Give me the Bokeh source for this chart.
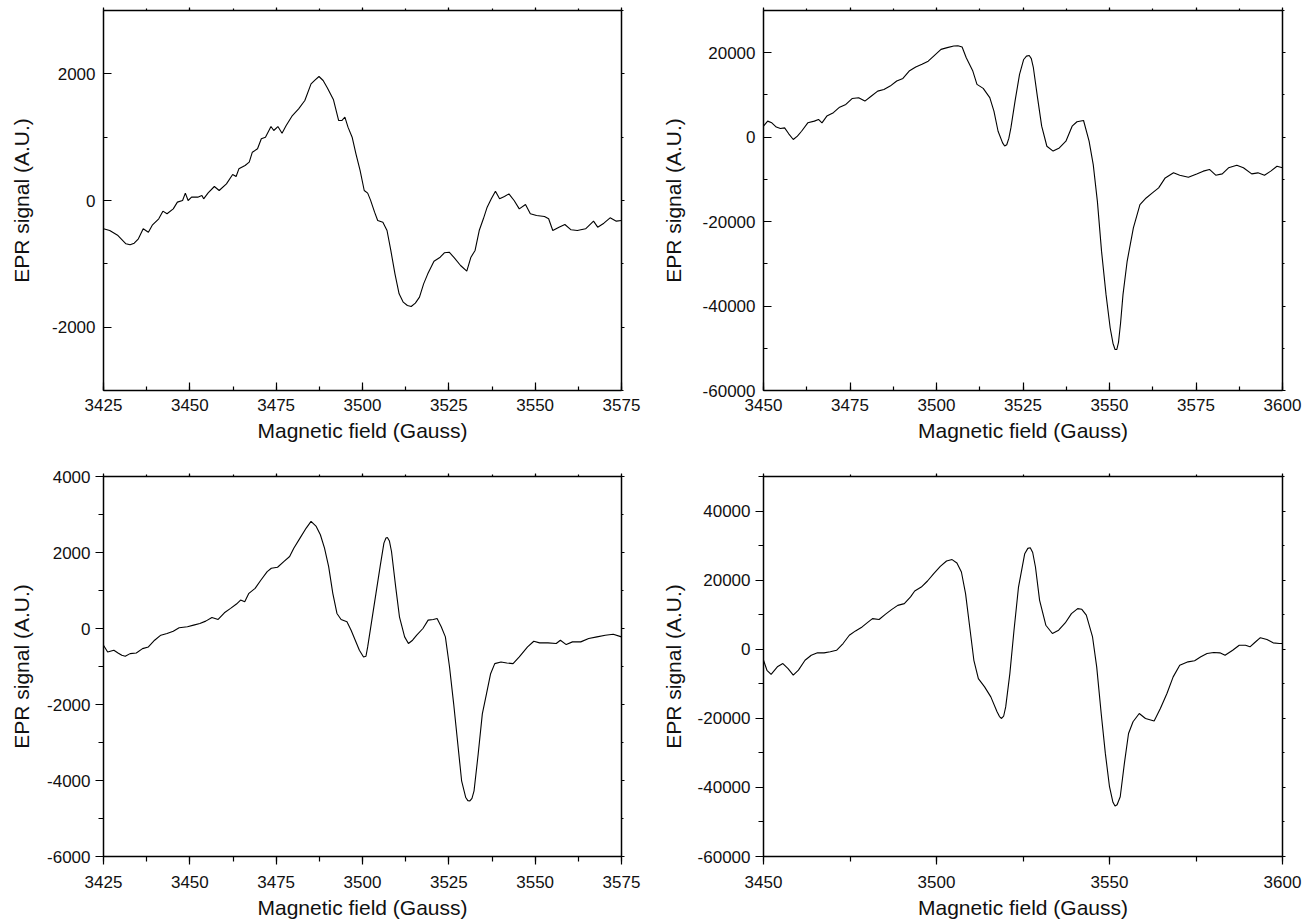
from bokeh.plotting import figure
from bokeh.layouts import column, row
from bokeh.models import Range1d, LinearAxis, SingleIntervalTicker, NumeralTickFormatter, CustomJSTickFormatter
from bokeh.embed import file_html
from bokeh.resources import INLINE

# ---------------- data ----------------
x_label = "Magnetic field (Gauss)"
y_label = "EPR signal (A.U.)"

p1_field = [3425, 3426.8, 3429.2, 3431.5, 3432.7, 3433.9, 3435.1, 3436.5, 3438.0, 3439.2, 3441.0, 3442.2, 3443.4,
            3445.2, 3446.4, 3447.9, 3448.7, 3449.5, 3450.5, 3452.3, 3453.5, 3454.0, 3455.3, 3457.1, 3458.5, 3460.6,
            3462.4, 3463.4, 3464.2, 3466.0, 3467.2, 3468.1, 3469.6, 3470.7, 3471.9, 3473.5, 3474.3, 3475.5, 3476.7,
            3477.9, 3479.7, 3481.5, 3483.3, 3485.1, 3486.3, 3487.4, 3488.6, 3489.8, 3491.6, 3493.1, 3494.0, 3494.9,
            3495.8, 3497.0, 3498.1, 3499.3, 3500.5, 3501.5, 3502.3, 3503.5, 3504.4, 3505.9, 3507.1, 3508.2, 3509.4,
            3510.6, 3511.8, 3513.0, 3514.1, 3515.3, 3516.5, 3517.7, 3518.9, 3520.7, 3522.5, 3523.7, 3525.1, 3526.6,
            3528.4, 3530.2, 3531.4, 3532.6, 3533.8, 3535.0, 3536.1, 3537.3, 3538.5, 3539.7, 3541.1, 3542.4, 3543.9,
            3545.4, 3547.2, 3548.6, 3550.4, 3552.7, 3553.9, 3555.1, 3556.9, 3558.6, 3560.4, 3562.2, 3564.6, 3566.9,
            3568.1, 3569.9, 3571.7, 3573.5, 3575.0]
p1_signal = [-447, -474, -553, -684, -700, -674, -605, -447, -500, -384, -289, -168, -210, -132, -26, 0, 116, 0, 53,
             53, 79, 26, 121, 221, 158, 263, 410, 379, 500, 553, 605, 763, 816, 974, 1000, 1168, 1105, 1168, 1063,
             1184, 1342, 1447, 1579, 1842, 1905, 1958, 1895, 1779, 1589, 1263, 1263, 1316, 1158, 1000, 737, 474, 158,
             116, 10, -184, -316, -342, -474, -789, -1158, -1474, -1605, -1658, -1674, -1621, -1526, -1316, -1158,
             -958, -895, -826, -816, -905, -1026, -1116, -895, -789, -474, -289, -105, 26, 147, 26, 63, 105, 0, -132,
             -63, -210, -237, -253, -289, -474, -421, -379, -463, -474, -447, -326, -421, -358, -274, -326, -316]

p2_field = [3450, 3451.2, 3452.4, 3453.7, 3454.9, 3456.1, 3457.3, 3458.6, 3459.8, 3461.0, 3462.8, 3464.7, 3465.9,
            3466.9, 3468.3, 3470.2, 3472.0, 3473.8, 3475.6, 3477.5, 3479.3, 3481.1, 3483.0, 3484.8, 3486.6, 3488.5,
            3490.3, 3492.1, 3494.0, 3495.8, 3497.6, 3499.5, 3501.3, 3503.1, 3505.0, 3506.2, 3507.4, 3508.6, 3510.5,
            3511.7, 3513.5, 3515.4, 3516.6, 3517.8, 3519.1, 3519.7, 3520.3, 3520.9, 3521.5, 3522.7, 3524.0, 3525.2,
            3526.0, 3526.8, 3527.4, 3528.0, 3529.2, 3530.4, 3531.9, 3533.7, 3535.5, 3537.4, 3539.2, 3540.6, 3542.5,
            3544.1, 3545.3, 3546.5, 3547.7, 3549.0, 3550.2, 3551.0, 3551.6, 3552.1, 3552.6, 3553.2, 3553.9, 3555.1,
            3556.9, 3558.8, 3560.6, 3562.4, 3564.2, 3566.1, 3568.5, 3570.3, 3572.8, 3575.2, 3577.1, 3578.9, 3580.7,
            3582.6, 3584.4, 3586.8, 3588.7, 3591.1, 3592.9, 3594.8, 3596.6, 3598.4, 3600]
p2_signal = [2600, 3800, 3400, 2400, 2050, 2200, 800, -550, 250, 1400, 3400, 3800, 4200, 3400, 5000, 5800, 7100,
             7750, 9150, 9350, 8550, 9700, 10900, 11300, 12100, 13300, 13900, 15650, 16600, 17250, 18000, 19450,
             20800, 21200, 21600, 21650, 21350, 18800, 15650, 12500, 11550, 9350, 6150, 1400, -1350, -2100, -1800,
             -300, 2200, 8550, 14850, 18400, 19200, 19350, 18600, 16450, 9350, 2600, -2150, -3300, -2550, -950, 2600,
             3650, 3950, -950, -6500, -15200, -27000, -37300, -45200, -48800, -50300, -50300, -48600, -44000, -37300,
             -29400, -21500, -16000, -14400, -13200, -12000, -9650, -8450, -9000, -9500, -8700, -8050, -7650, -9000,
             -8700, -7250, -6650, -7250, -8700, -8450, -9000, -8050, -6900, -7250]

p3_field = [3425, 3426.2, 3428.0, 3429.2, 3430.3, 3431.3, 3432.7, 3434.5, 3436.3, 3438.0, 3439.8, 3441.6, 3443.4,
            3445.2, 3446.9, 3449.3, 3451.1, 3452.9, 3454.6, 3456.4, 3458.2, 3460.0, 3461.8, 3463.5, 3464.7, 3465.9,
            3467.1, 3468.9, 3470.6, 3472.4, 3473.6, 3475.4, 3477.2, 3478.9, 3480.1, 3481.9, 3483.7, 3485.1, 3486.6,
            3487.8, 3489.0, 3490.2, 3491.4, 3492.6, 3493.8, 3495.5, 3496.7, 3497.9, 3499.1, 3500.3, 3501.0, 3501.5,
            3502.7, 3503.9, 3505.1, 3506.2, 3506.8, 3507.2, 3507.8, 3508.4, 3509.6, 3510.7, 3512.2, 3513.3, 3514.5,
            3515.7, 3517.5, 3519.0, 3520.5, 3521.6, 3522.8, 3524.0, 3525.2, 3526.4, 3527.6, 3528.7, 3529.9, 3530.5,
            3531.1, 3531.7, 3532.3, 3533.5, 3534.7, 3535.9, 3537.1, 3538.3, 3540.1, 3541.8, 3543.6, 3545.4, 3547.8,
            3549.6, 3551.3, 3553.7, 3556.1, 3557.3, 3559.0, 3560.8, 3563.2, 3565.5, 3567.9, 3570.3, 3572.6, 3575.0]
p3_signal = [-441, -617, -573, -643, -705, -731, -661, -643, -529, -485, -308, -176, -132, -70, 18, 44, 88, 132,
             194, 291, 238, 414, 529, 643, 749, 705, 925, 1057, 1277, 1498, 1586, 1612, 1762, 1894, 2114, 2379, 2643,
             2819, 2687, 2467, 2114, 1630, 925, 396, 238, 176, -44, -308, -573, -749, -730, -485, 220, 925, 1630,
             2247, 2380, 2396, 2300, 2026, 1101, 308, -220, -396, -308, -176, 0, 220, 238, 264, 44, -220, -1013,
             -1982, -3039, -4008, -4449, -4530, -4537, -4470, -4273, -3304, -2247, -1718, -1189, -925, -881, -907,
             -925, -749, -485, -335, -379, -379, -396, -308, -423, -352, -352, -264, -220, -176, -150, -220]

p4_field = [3450, 3451.0, 3452.2, 3454.0, 3455.6, 3457.1, 3458.6, 3460.1, 3462.0, 3463.8, 3465.6, 3467.5, 3469.3,
            3471.1, 3473.0, 3474.8, 3476.6, 3478.5, 3480.3, 3481.5, 3483.4, 3485.2, 3487.0, 3488.8, 3490.7, 3492.5,
            3493.7, 3495.6, 3497.4, 3499.2, 3501.1, 3502.9, 3504.5, 3505.9, 3507.2, 3508.4, 3509.6, 3510.8, 3512.1,
            3513.9, 3515.7, 3517.5, 3518.2, 3518.8, 3519.4, 3520.0, 3521.2, 3522.4, 3523.7, 3525.5, 3526.4, 3527.1,
            3527.8, 3528.6, 3529.8, 3531.6, 3533.5, 3535.3, 3537.2, 3539.0, 3540.8, 3542.0, 3543.3, 3545.1, 3546.3,
            3547.6, 3548.8, 3550.0, 3551.0, 3551.6, 3552.2, 3553.1, 3554.3, 3555.5, 3556.8, 3558.6, 3560.4, 3562.9,
            3564.7, 3566.6, 3568.4, 3570.3, 3572.7, 3574.6, 3576.4, 3578.2, 3580.1, 3581.9, 3583.4, 3585.6, 3587.5,
            3589.3, 3590.6, 3592.0, 3593.6, 3595.5, 3597.3, 3599.1, 3600]
p4_signal = [-3200, -6100, -7250, -5100, -4150, -5600, -7500, -6050, -3200, -1750, -1050, -1050, -750, -300, 1650,
             4050, 5300, 6450, 7900, 8850, 8600, 10100, 11450, 12700, 13200, 15150, 16850, 18000, 19750, 21900,
             24000, 25550, 25950, 24950, 22350, 16100, 6450, -3200, -8500, -10900, -13800, -18100, -19500, -20050,
             -19400, -16700, -7050, 5500, 18000, 27650, 29200, 29400, 28000, 23800, 14150, 6950, 4550, 5500, 7600,
             10300, 11750, 11550, 9850, 3550, -5100, -18600, -30150, -39800, -44300, -45400, -45000, -42700, -33050,
             -24400, -21000, -18600, -20050, -20800, -17150, -12800, -8000, -4650, -3650, -3350, -2200, -1250, -950,
             -1050, -1750, -300, 1150, 1150, 700, 1950, 3350, 2800, 1850, 1650, 1650]

# axis settings per panel
panel_x_ranges = [(3425, 3575), (3450, 3600), (3425, 3575), (3450, 3600)]
panel_y_ranges = [(-3000, 3000), (-60000, 30000), (-6000, 4000), (-60000, 50000)]
panel_x_steps = [25, 25, 25, 50]
panel_y_steps = [2000, 20000, 2000, 20000]

FONT = "Liberation Sans"


def style_main_axis(ax, inside, standoff, label_standoff):
    ax.axis_line_width = 1.5
    ax.axis_line_color = "black"
    ax.major_tick_line_color = "black"
    ax.minor_tick_line_color = "black"
    ax.major_tick_line_width = 1.2
    ax.minor_tick_line_width = 1.2
    if inside:
        ax.major_tick_in, ax.major_tick_out = 8, 0
        ax.minor_tick_in, ax.minor_tick_out = 4, 0
    else:
        ax.major_tick_in, ax.major_tick_out = 0, 8
        ax.minor_tick_in, ax.minor_tick_out = 0, 5
    ax.major_label_text_font = FONT
    ax.major_label_text_font_size = "17px"
    ax.major_label_text_color = "#111111"
    ax.major_label_standoff = standoff
    ax.axis_label_text_font = FONT
    ax.axis_label_text_font_size = "21px"
    ax.axis_label_text_font_style = "normal"
    ax.axis_label_text_color = "#111111"
    ax.axis_label_standoff = label_standoff


def make_panel(idx, field, signal, width, height, borders, inside, ylab_standoff, xlab_standoff,
               xtick_standoff, ytick_standoff):
    xr = panel_x_ranges[idx]
    yr = panel_y_ranges[idx]
    left, right, top, bottom = borders
    p = figure(width=width, height=height, output_backend="svg", toolbar_location=None,
               x_range=Range1d(*xr), y_range=Range1d(*yr),
               min_border_left=left, min_border_right=right, min_border_top=top, min_border_bottom=bottom,
               x_axis_label=x_label, y_axis_label=y_label)
    p.background_fill_color = "white"
    p.border_fill_color = "white"
    p.outline_line_color = None
    p.grid.visible = False
    xt = SingleIntervalTicker(interval=panel_x_steps[idx], num_minor_ticks=2)
    yt = SingleIntervalTicker(interval=panel_y_steps[idx], num_minor_ticks=2)
    p.xaxis.ticker = xt
    p.yaxis.ticker = yt
    p.xaxis.formatter = NumeralTickFormatter(format="0")
    p.yaxis.formatter = NumeralTickFormatter(format="0")
    style_main_axis(p.xaxis[0], inside, xtick_standoff, xlab_standoff)
    style_main_axis(p.yaxis[0], inside, ytick_standoff, ylab_standoff)

    blank = CustomJSTickFormatter(code="return ''")
    for loc, tk in (("above", xt), ("right", yt)):
        ax = LinearAxis(ticker=tk, formatter=blank)
        ax.axis_line_width = 1.5
        ax.axis_line_color = "black"
        ax.major_tick_in, ax.major_tick_out = 0, 3
        ax.minor_tick_in, ax.minor_tick_out = 0, 2
        ax.major_tick_line_width = 1.2
        ax.minor_tick_line_width = 1.2
        ax.major_label_text_font_size = "1px"
        ax.major_label_standoff = 0
        p.add_layout(ax, loc)

    p.line(field, signal, line_color="black", line_width=1.1)
    return p


p1 = make_panel(0, p1_field, p1_signal, 650, 460, (103, 29, 10, 70), True, 16, 5, 8, 8)
p2 = make_panel(1, p2_field, p2_signal, 660, 460, (113, 28, 10, 70), True, 15, 5, 8, 8)
p3 = make_panel(2, p3_field, p3_signal, 650, 462, (103, 29, 16, 66), False, 11, 5, 11, 5)
p4 = make_panel(3, p4_field, p4_signal, 660, 462, (113, 28, 16, 66), False, 10, 5, 11, 5)

layout = column(row(p1, p2), row(p3, p4))

open("out.html", "w").write(file_html(layout, INLINE))
